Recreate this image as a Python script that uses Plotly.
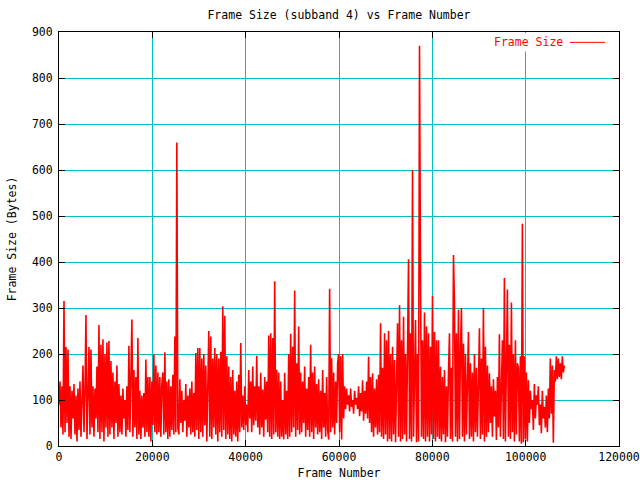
import plotly.graph_objects as go

frame_sizes = [
    90, 140, 40, 130, 25, 315, 30, 215, 50, 210,
    20, 130, 15, 120, 60, 135, 25, 110, 10, 125,
    35, 140, 20, 130, 175, 30, 120, 285, 15, 110,
    215, 25, 210, 40, 130, 20, 125, 60, 173, 30,
    263, 15, 220, 30, 232, 10, 200, 40, 225, 20,
    228, 25, 185, 40, 160, 15, 140, 50, 175, 20,
    135, 30, 110, 25, 125, 60, 100, 20, 130, 35,
    218, 30, 210, 275, 20, 165, 40, 150, 15, 235,
    25, 120, 15, 110, 40, 115, 20, 188, 30, 150,
    20, 150, 10, 140, 45, 200, 30, 175, 25, 160,
    30, 150, 20, 135, 160, 25, 204, 30, 140, 15,
    145, 20, 130, 35, 155, 25, 238, 30, 660, 40,
    25, 145, 50, 120, 30, 100, 55, 135, 20, 110,
    40, 125, 25, 140, 30, 115, 20, 202, 35, 213,
    15, 213, 30, 190, 20, 200, 45, 175, 10, 195,
    250, 20, 238, 15, 190, 40, 213, 25, 200, 10,
    190, 30, 205, 20, 304, 35, 283, 15, 195, 25,
    173, 15, 150, 10, 165, 25, 120, 20, 140, 10,
    155, 30, 224, 40, 110, 35, 130, 45, 90, 30,
    165, 60, 140, 30, 173, 45, 130, 55, 196, 40,
    130, 25, 159, 40, 123, 20, 150, 57, 140, 30,
    240, 20, 245, 15, 235, 25, 358, 30, 166, 20,
    160, 15, 140, 20, 100, 14, 159, 25, 120, 15,
    200, 20, 244, 30, 216, 40, 338, 20, 180, 35,
    260, 25, 160, 30, 140, 50, 173, 20, 125, 35,
    150, 20, 220, 30, 160, 15, 173, 40, 135, 25,
    145, 30, 120, 15, 165, 40, 115, 20, 150, 35,
    14, 342, 30, 191, 40, 160, 25, 140, 50, 180,
    200, 30, 195, 14, 200, 60, 130, 80, 125, 90,
    110, 75, 125, 85, 100, 70, 120, 90, 105, 80,
    130, 65, 115, 75, 143, 55, 120, 70, 140, 60,
    194, 50, 150, 30, 158, 20, 125, 40, 145, 25,
    155, 30, 267, 20, 170, 15, 245, 25, 230, 10,
    250, 15, 200, 10, 216, 25, 187, 8, 210, 267,
    20, 306, 10, 230, 15, 281, 25, 200, 10, 281,
    406, 15, 245, 10, 600, 20, 190, 274, 8, 200,
    10, 870, 365, 20, 230, 15, 290, 10, 260, 20,
    245, 10, 216, 25, 326, 15, 248, 10, 230, 20,
    230, 15, 172, 10, 150, 25, 165, 8, 130, 20,
    160, 245, 15, 170, 10, 415, 310, 20, 245, 10,
    296, 15, 210, 300, 20, 223, 10, 200, 25, 190,
    248, 15, 180, 20, 160, 10, 200, 30, 170, 20,
    180, 256, 15, 190, 25, 300, 10, 216, 20, 175,
    30, 158, 50, 130, 20, 145, 64, 120, 13, 150,
    40, 243, 20, 160, 230, 15, 365, 10, 200, 340,
    20, 220, 15, 312, 30, 200, 10, 230, 25, 180,
    170, 10, 195, 5, 483, 8, 195, 15, 160, 10,
    143, 50, 120, 80, 100, 35, 135, 60, 110, 90,
    130, 45, 90, 28, 120, 60, 85, 40, 110, 30,
    125, 60, 190, 70, 175, 7, 165, 140, 195, 145,
    190, 150, 180, 145, 195, 160, 175,
]
frame_step = 214
frame_numbers = [i * frame_step for i in range(len(frame_sizes))]

x_ticks = [0, 20000, 40000, 60000, 80000, 100000, 120000]
y_ticks = [0, 100, 200, 300, 400, 500, 600, 700, 800, 900]

FONT = "DejaVu Sans Mono"
GRID = "#00c0c0"

fig = go.Figure()
fig.add_trace(go.Scatter(
    x=frame_numbers, y=frame_sizes, mode="lines",
    line=dict(color="#ff0000", width=1.6),
    name="Frame Size", showlegend=False,
))

axis_common = dict(
    showline=True, linecolor="black", linewidth=1, mirror="ticks",
    ticks="inside", ticklen=6, tickcolor="black", tickwidth=1,
    showgrid=True, gridcolor=GRID, gridwidth=1, zeroline=False,
    automargin=False,
    tickfont=dict(family=FONT, size=11.5, color="black"),
)

fig.update_xaxes(
    range=[0, 120000], tickvals=x_ticks, ticktext=[str(v) for v in x_ticks],
    title=dict(text="Frame Number", font=dict(family=FONT, size=11.5, color="black"), standoff=6),
    **axis_common,
)
fig.update_yaxes(
    range=[0, 900], tickvals=y_ticks, ticktext=[str(v) for v in y_ticks],
    ticklabelstandoff=3,
    title=dict(text="Frame Size (Bytes)", font=dict(family=FONT, size=11.5, color="black"), standoff=12),
    **axis_common,
)

# gnuplot-style key: text followed by line sample
fig.add_annotation(
    xref="paper", yref="paper", x=0.905, y=0.975, xanchor="right", yanchor="middle",
    text="Frame Size", showarrow=False, bgcolor="white", borderpad=2,
    font=dict(family=FONT, size=11.5, color="#ff0000"),
)
fig.add_shape(
    type="line", xref="paper", yref="paper", x0=0.9125, x1=0.975, y0=0.975, y1=0.975,
    line=dict(color="#ff0000", width=1),
)

fig.update_layout(
    width=640, height=480,
    margin=dict(l=59, r=21, t=32, b=34, autoexpand=False),
    paper_bgcolor="white", plot_bgcolor="white",
    title=dict(text="Frame Size (subband 4) vs Frame Number", xref="paper", x=0.5, xanchor="center",
               yref="container", y=0.969, yanchor="middle",
               font=dict(family=FONT, size=11.5, color="black")),
    font=dict(family=FONT, size=11.5, color="black"),
)

fig.write_html(
    "out.html",
    config={"displayModeBar": False},
    post_script="document.body.style.margin='0px';document.body.style.overflow='hidden';",
)
